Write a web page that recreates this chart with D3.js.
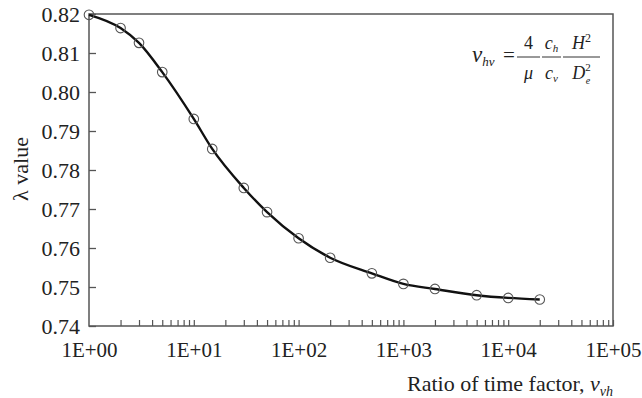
<!DOCTYPE html>
<html>
<head>
<meta charset="utf-8">
<script src="https://cdn.jsdelivr.net/npm/d3@7"></script>
<style>
    body { margin: 0; background: #fff; }
    svg { display: block; }
    svg text { font-family: "Liberation Serif", "DejaVu Serif", serif !important; fill: #222; }
</style>
</head>
<body>
<div id="chart"></div>
<script>
var ratio = [1, 2, 3, 5, 10, 15, 30, 50, 100, 200, 500, 1000, 2000, 5000, 10000, 20000];
var lambda = [0.8198, 0.8164, 0.8126, 0.8051, 0.7931, 0.7854, 0.7754, 0.7692, 0.7625, 0.7575, 0.7535, 0.7508, 0.7495, 0.7479, 0.7472, 0.7468];
var yTicks = [0.74, 0.75, 0.76, 0.77, 0.78, 0.79, 0.80, 0.81, 0.82];
var xTicks = [1, 10, 100, 1000, 10000, 100000];
var xTickLabels = ["1E+00", "1E+01", "1E+02", "1E+03", "1E+04", "1E+05"];

var SERIF = "Liberation Serif";
var W = 642, H = 398;
var m = { left: 89, top: 14, right: 29, bottom: 72 };
var w = W - m.left - m.right, h = H - m.top - m.bottom;

var svg = d3.select("#chart").append("svg").attr("width", W).attr("height", H)
    .attr("font-family", SERIF);
var g = svg.append("g").attr("transform", "translate(" + m.left + "," + m.top + ")");

var x = d3.scaleLog().domain([1, 100000]).range([0, w]);
var y = d3.scaleLinear().domain([0.74, 0.82]).range([h, 0]);

// frame
g.append("rect").attr("x", 0).attr("y", 0).attr("width", w).attr("height", h)
    .attr("fill", "none").attr("stroke", "#555").attr("stroke-width", 1.5);

// y axis, ticks inward
var yAxis = d3.axisLeft(y).tickValues(yTicks).tickSizeInner(-7).tickSizeOuter(0)
    .tickPadding(9).tickFormat(d3.format(".2f"));
var ya = g.append("g").call(yAxis).attr("font-family", SERIF);
ya.select(".domain").remove();
ya.selectAll("line").attr("stroke", "#555").attr("stroke-width", 1.3);
ya.selectAll("text").attr("font-size", 22).attr("fill", "#333").attr("dy", "0.35em");

// x axis: minor ticks 2..9 each decade, pointing up
var minor = [];
for (var d = 1; d < 100000; d *= 10) {
    for (var k = 2; k <= 10; k++) minor.push(d * k);
}
var xAxis = d3.axisBottom(x).tickValues(minor).tickSizeInner(-6).tickSizeOuter(0).tickFormat("");
var xa = g.append("g").attr("transform", "translate(0," + h + ")").call(xAxis);
xa.select(".domain").remove();
xa.selectAll("line").attr("stroke", "#555").attr("stroke-width", 1.2);

var xLab = d3.axisBottom(x).tickValues(xTicks).tickSize(0).tickPadding(16)
    .tickFormat(function (d, i) { return xTickLabels[i]; });
var xl = g.append("g").attr("transform", "translate(0," + h + ")").call(xLab).attr("font-family", SERIF);
xl.select(".domain").remove();
xl.selectAll("text").attr("font-size", 21).attr("fill", "#333");

// curve
var pts = ratio.map(function (r, i) { return [r, lambda[i]]; });
var line = d3.line().x(function (d) { return x(d[0]); }).y(function (d) { return y(d[1]); })
    .curve(d3.curveMonotoneX);
g.append("path").datum(pts).attr("d", line)
    .attr("fill", "none").attr("stroke", "#111").attr("stroke-width", 2.4);

g.selectAll("circle.pt").data(pts).enter().append("circle").attr("class", "pt")
    .attr("cx", function (d) { return x(d[0]); })
    .attr("cy", function (d) { return y(d[1]); })
    .attr("r", 4.8).attr("fill", "none").attr("stroke", "#555").attr("stroke-width", 1.1);

// axis titles
svg.append("text").attr("transform", "translate(28,169) rotate(-90)")
    .attr("text-anchor", "middle").attr("font-size", 22).attr("fill", "#333")
    .text("\u03bb value");

var xt = svg.append("text").attr("x", 613).attr("y", 391).attr("text-anchor", "end")
    .attr("font-size", 22).attr("fill", "#333");
xt.append("tspan").text("Ratio of time factor, ");
xt.append("tspan").attr("font-style", "italic").text("v");
xt.append("tspan").attr("font-style", "italic").attr("font-size", 14).attr("dy", 5).text("vh");

// formula
var f = svg.append("g").attr("fill", "#333");
var fs = 18;
var t1 = f.append("text").attr("x", 472).attr("y", 62).attr("font-size", 23).attr("font-style", "italic");
t1.append("tspan").text("\u03bd");
t1.append("tspan").attr("font-size", 13).attr("dy", 4).text("hv");
f.append("text").attr("x", 509).attr("y", 62).attr("font-size", 21).attr("text-anchor", "middle").text("=");

function frac(x0, x1, num, den) {
    f.append("line").attr("x1", x0).attr("x2", x1).attr("y1", 57).attr("y2", 57)
        .attr("stroke", "#333").attr("stroke-width", 1);
    var n = f.append("text").attr("x", (x0 + x1) / 2).attr("y", 49).attr("text-anchor", "middle")
        .attr("font-size", fs).attr("font-style", "italic");
    num(n);
    var dd = f.append("text").attr("x", (x0 + x1) / 2).attr("y", 79).attr("text-anchor", "middle")
        .attr("font-size", fs).attr("font-style", "italic");
    den(dd);
}
frac(517, 540, function (t) { t.attr("font-style", "normal").text("4"); },
    function (t) { t.text("\u03bc"); });
frac(542, 561, function (t) {
    t.append("tspan").text("c");
    t.append("tspan").attr("font-size", 11).attr("dy", 3).text("h");
}, function (t) {
    t.append("tspan").text("c");
    t.append("tspan").attr("font-size", 11).attr("dy", 3).text("v");
});
frac(563, 600, function (t) {
    t.append("tspan").text("H");
    t.append("tspan").attr("font-size", 12).attr("font-style", "normal").attr("dy", -7).text("2");
}, function (t) {
    t.append("tspan").text("D");
    t.append("tspan").attr("font-size", 11).attr("font-style", "normal").attr("dy", -8).text("2");
    t.append("tspan").attr("font-size", 10).attr("dx", -5).attr("dy", 13).text("e");
});
</script>
</body>
</html>
